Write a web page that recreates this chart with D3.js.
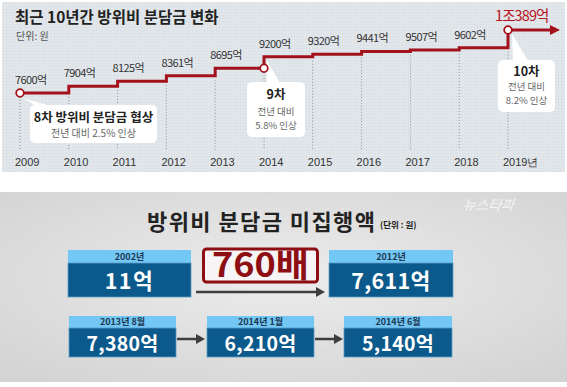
<!DOCTYPE html>
<html><head><meta charset="utf-8">
<script src="https://cdn.jsdelivr.net/npm/d3@7"></script>
<style>
html,body{margin:0;padding:0;background:#fff;}
svg{display:block;font-family:"Noto Sans CJK KR","Noto Sans",sans-serif;}
</style></head>
<body><svg id="c" width="567" height="387"></svg>
<script>
// ---- data: top chart ----
const years = [2009,2010,2011,2012,2013,2014,2015,2016,2017,2018,2019];
const values = [7600,7904,8125,8361,8695,9200,9320,9441,9507,9602,10389];
const valueLabels = ["7600억","7904억","8125억","8361억","8695억","9200억","9320억","9441억","9507억","9602억","1조389억"];
const yearLabels = ["2009","2010","2011","2012","2013","2014","2015","2016","2017","2018","2019년"];
const markedYears = [2009,2014,2019];
const callouts = [
  {year:2009, lines:["8차 방위비 분담금 협상","전년 대비 2.5% 인상"]},
  {year:2014, lines:["9차","전년 대비","5.8% 인상"]},
  {year:2019, lines:["10차","전년 대비","8.2% 인상"]}
];
// ---- data: bottom panel ----
const periods = ["2002년","2012년","2013년 8월","2014년 1월","2014년 6월"];
const amounts = [11,7611,7380,6210,5140];
const amountLabels = ["11억","7,611억","7,380억","6,210억","5,140억"];
const multiplier = "760배";

const svg = d3.select("#c");
const defs = svg.append("defs");

// ===== Top panel =====
const pat = defs.append("pattern").attr("id","dots").attr("width",3).attr("height",3).attr("patternUnits","userSpaceOnUse");
pat.append("rect").attr("width",3).attr("height",3).attr("fill","#e1e6ea");
pat.append("rect").attr("width",1).attr("height",1).attr("fill","#d3d9de");
svg.append("rect").attr("x",2).attr("y",2).attr("width",563).attr("height",170).attr("fill","url(#dots)");

svg.append("text").attr("x",15).attr("y",23).attr("font-size",15.5).attr("font-weight","bold").attr("fill","#222")
  .text("최근 10년간 방위비 분담금 변화");
svg.append("text").attr("x",16).attr("y",40).attr("font-size",10).attr("fill","#555").text("단위: 원");

const x = d3.scaleLinear().domain([2009,2019]).range([20,508]);
const y = d3.scaleLinear().domain([7600,10389]).range([93,30]);

// dotted year guides
const g = svg.append("g");
years.forEach((yr,i)=>{
  const top = i===0 ? y(values[0]) : y(values[i-1]);
  g.append("line").attr("x1",x(yr)).attr("x2",x(yr)).attr("y1",top+4).attr("y2",150)
   .attr("stroke","#8a8f94").attr("stroke-width",1).attr("stroke-dasharray","1,2");
});

// year labels
svg.selectAll(".yr").data(years).join("text")
  .attr("x",d=>x(d)-5).attr("y",166).attr("font-size",11).attr("fill","#333")
  .attr("font-family","'Liberation Sans Narrow','Liberation Sans',sans-serif")
  .text((d,i)=>yearLabels[i]);

// callouts
const calloutGeom = {
  2009:{x:30,y:105,w:127,h:38},
  2014:{x:247,y:82,w:58,h:55},
  2019:{x:498,y:60,w:57,h:52}
};
callouts.forEach(c=>{
  const b = calloutGeom[c.year];
  const cx = x(c.year), cyv = y(values[years.indexOf(c.year)]);
  let pts;
  if(c.year===2009) pts=[[cx+3,cyv+5],[b.x+6,b.y+1],[b.x+20,b.y+1]];
  else if(c.year===2014) pts=[[cx+3,cyv+4],[b.x+20,b.y+1],[b.x+33,b.y+1]];
  else pts=[[cx+4,cyv+4],[b.x+15,b.y+1],[b.x+30,b.y+1]];
  svg.append("polygon").attr("points",pts.map(p=>p.join(",")).join(" ")).attr("fill","#fff");
  svg.append("rect").attr("x",b.x).attr("y",b.y).attr("width",b.w).attr("height",b.h).attr("rx",5).attr("fill","#fff");
  const mx = b.x+b.w/2;
  if(c.lines.length===2){
    svg.append("text").attr("x",mx).attr("y",b.y+17).attr("text-anchor","middle").attr("font-size",12.5).attr("font-weight","bold").attr("fill","#222").text(c.lines[0]);
    svg.append("text").attr("x",mx).attr("y",b.y+32).attr("text-anchor","middle").attr("font-size",10).attr("fill","#666").text(c.lines[1]);
  } else {
    const off = c.year===2014 ? [17,33,47] : [16,30,44];
    svg.append("text").attr("x",mx).attr("y",b.y+off[0]).attr("text-anchor","middle").attr("font-size",12.5).attr("font-weight","bold").attr("fill","#222").text(c.lines[0]);
    svg.append("text").attr("x",mx).attr("y",b.y+off[1]).attr("text-anchor","middle").attr("font-size",9.5).attr("fill","#666").text(c.lines[1]);
    svg.append("text").attr("x",mx).attr("y",b.y+off[2]).attr("text-anchor","middle").attr("font-size",9.5).attr("fill","#666").text(c.lines[2]);
  }
});

// step line
const red = "#a3121c";
const pts = years.map((yr,i)=>[x(yr),y(values[i])]);
pts.push([x(2019)+42, y(values[values.length-1])]);
svg.append("path").attr("d",d3.line().curve(d3.curveStepAfter)(pts))
  .attr("fill","none").attr("stroke",red).attr("stroke-width",3);
const ay = y(values[values.length-1]), ax = x(2019)+42;
svg.append("polygon").attr("points",`${ax},${ay-5} ${ax+10},${ay} ${ax},${ay+5}`).attr("fill",red);

// circles
svg.selectAll(".mk").data(markedYears).join("circle")
  .attr("cx",d=>x(d)).attr("cy",d=>{const i=years.indexOf(d); return d===2014? y(values[i-1]) : y(values[i]);})
  .attr("r",3.8).attr("fill","#fff").attr("stroke",red).attr("stroke-width",1.8);

// value labels
svg.selectAll(".vl").data(years.slice(0,-1)).join("text")
  .attr("x",d=>x(d)-5).attr("y",(d,i)=>y(values[i])-9)
  .attr("font-size",11).attr("fill","#333").attr("letter-spacing",-0.6)
  .text((d,i)=>valueLabels[i]);
svg.append("text").attr("x",x(2019)-13).attr("y",21).attr("font-size",14.5).attr("fill","#b8121c").attr("letter-spacing",-0.9)
  .text(valueLabels[valueLabels.length-1]);

// ===== Bottom panel =====
const grad = defs.append("radialGradient").attr("id","bg").attr("cx","50%").attr("cy","45%").attr("r","70%");
grad.append("stop").attr("offset","0%").attr("stop-color","#ebebeb");
grad.append("stop").attr("offset","100%").attr("stop-color","#d0d0d0");
const flt = defs.append("filter").attr("id","tex").attr("x",0).attr("y",0).attr("width","100%").attr("height","100%");
flt.append("feTurbulence").attr("type","fractalNoise").attr("baseFrequency","0.9").attr("numOctaves",2).attr("seed",3).attr("result","n");
flt.append("feColorMatrix").attr("in","n").attr("type","matrix").attr("values","0 0 0 0 1  0 0 0 0 1  0 0 0 0 1  0 0 0 0.15 0").attr("result","w");
flt.append("feComposite").attr("in","w").attr("in2","SourceGraphic").attr("operator","in");
svg.append("rect").attr("x",0).attr("y",192).attr("width",567).attr("height",190).attr("fill","url(#bg)");
svg.append("rect").attr("x",0).attr("y",192).attr("width",567).attr("height",190).attr("fill","#888").attr("filter","url(#tex)");

svg.append("text").attr("x",147).attr("y",230).attr("font-size",22).attr("font-weight","bold").attr("fill","#222")
  .attr("textLength",228).attr("lengthAdjust","spacing").text("방위비 분담금 미집행액");
svg.append("text").attr("x",380).attr("y",228).attr("font-size",8.5).attr("font-weight","bold").attr("fill","#222").text("(단위 : 원)");
svg.append("text").attr("x",462).attr("y",210).attr("font-size",14).attr("fill","#fafafa").attr("opacity",0.85)
  .attr("font-style","italic").attr("transform","skewX(-10) translate(37,0)").text("뉴스타파");

const boxGeom = [
  {x:68,y:250,w:123,hh:13,bh:34,fs:21.5,by:8.5},
  {x:329,y:250,w:124,hh:13,bh:34,fs:21.5,by:8.5},
  {x:69,y:316,w:107,hh:12,bh:29,fs:19.5,by:8},
  {x:207,y:316,w:107,hh:12,bh:29,fs:19.5,by:8},
  {x:344,y:316,w:108,hh:12,bh:29,fs:19.5,by:8}
];
periods.forEach((p,i)=>{
  const b = boxGeom[i];
  svg.append("rect").attr("x",b.x).attr("y",b.y).attr("width",b.w).attr("height",b.hh).attr("fill","#72c7f4");
  svg.append("rect").attr("x",b.x).attr("y",b.y+b.hh).attr("width",b.w).attr("height",b.bh).attr("fill","#0c5a8b")
    .attr("stroke","#5a9cc6").attr("stroke-width",0.8);
  svg.append("text").attr("x",b.x+b.w/2).attr("y",b.y+b.hh-3).attr("text-anchor","middle").attr("font-size",9).attr("font-weight","bold").attr("fill","#1d3550").text(p);
  svg.append("text").attr("x",b.x+b.w/2).attr("y",b.y+b.hh+b.bh/2+b.by).attr("text-anchor","middle")
    .attr("font-size",b.fs).attr("font-weight","bold").attr("fill","#fff").attr("letter-spacing",i===0?1.5:0.3).text(amountLabels[i]);
});

// multiplier box
svg.append("rect").attr("x",203.5).attr("y",249).attr("width",114).attr("height",33).attr("rx",3)
  .attr("fill","#f6f4f4").attr("stroke","#8e0f13").attr("stroke-width",3);
svg.append("text").attr("x",212).attr("y",277).attr("font-size",34).attr("font-weight","bold")
  .attr("fill","#8e0f13").attr("textLength",97).attr("lengthAdjust","spacingAndGlyphs").text(multiplier);

// arrows
function arrow(x1,x2,yy){
  svg.append("line").attr("x1",x1).attr("x2",x2-8).attr("y1",yy).attr("y2",yy).attr("stroke","#3e3e3e").attr("stroke-width",2.5);
  svg.append("polygon").attr("points",`${x2-9},${yy-5} ${x2},${yy} ${x2-9},${yy+5}`).attr("fill","#3e3e3e");
}
arrow(196,325,292);
arrow(177,205,339);
arrow(315,343,339);
</script></body></html>
